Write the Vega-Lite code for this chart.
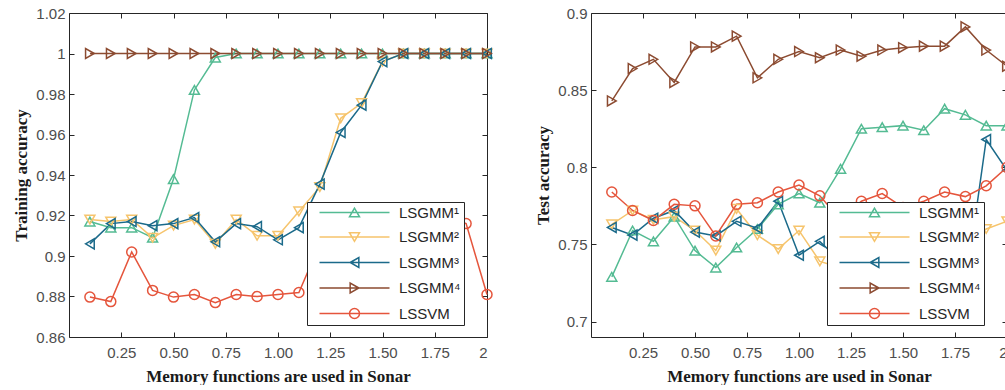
{
  "$schema": "https://vega.github.io/schema/vega-lite/v6.json",
  "padding": {"left": 12, "top": 5, "right": 0, "bottom": 0},
  "datasets": {
    "acc": [
      {"model":"LSGMM¹","x":0.1,"train":0.917,"test":0.729},
      {"model":"LSGMM¹","x":0.2,"train":0.914,"test":0.759},
      {"model":"LSGMM¹","x":0.3,"train":0.914,"test":0.752},
      {"model":"LSGMM¹","x":0.4,"train":0.909,"test":0.768},
      {"model":"LSGMM¹","x":0.5,"train":0.938,"test":0.746},
      {"model":"LSGMM¹","x":0.6,"train":0.982,"test":0.735},
      {"model":"LSGMM¹","x":0.7,"train":0.998,"test":0.748},
      {"model":"LSGMM¹","x":0.8,"train":1,"test":0.760},
      {"model":"LSGMM¹","x":0.9,"train":1,"test":0.776},
      {"model":"LSGMM¹","x":1.0,"train":1,"test":0.783},
      {"model":"LSGMM¹","x":1.1,"train":1,"test":0.777},
      {"model":"LSGMM¹","x":1.2,"train":1,"test":0.799},
      {"model":"LSGMM¹","x":1.3,"train":1,"test":0.825},
      {"model":"LSGMM¹","x":1.4,"train":1,"test":0.826},
      {"model":"LSGMM¹","x":1.5,"train":1,"test":0.827},
      {"model":"LSGMM¹","x":1.6,"train":1,"test":0.824},
      {"model":"LSGMM¹","x":1.7,"train":1,"test":0.838},
      {"model":"LSGMM¹","x":1.8,"train":1,"test":0.834},
      {"model":"LSGMM¹","x":1.9,"train":1,"test":0.827},
      {"model":"LSGMM¹","x":2.0,"train":1,"test":0.827},
      {"model":"LSGMM²","x":0.1,"train":0.918,"test":0.763},
      {"model":"LSGMM²","x":0.2,"train":0.917,"test":0.772},
      {"model":"LSGMM²","x":0.3,"train":0.918,"test":0.766},
      {"model":"LSGMM²","x":0.4,"train":0.909,"test":0.768},
      {"model":"LSGMM²","x":0.5,"train":0.915,"test":0.759},
      {"model":"LSGMM²","x":0.6,"train":0.918,"test":0.746},
      {"model":"LSGMM²","x":0.7,"train":0.906,"test":0.773},
      {"model":"LSGMM²","x":0.8,"train":0.918,"test":0.756},
      {"model":"LSGMM²","x":0.9,"train":0.910,"test":0.747},
      {"model":"LSGMM²","x":1.0,"train":0.910,"test":0.759},
      {"model":"LSGMM²","x":1.1,"train":0.922,"test":0.739},
      {"model":"LSGMM²","x":1.2,"train":0.934,"test":0.735},
      {"model":"LSGMM²","x":1.3,"train":0.968,"test":0.742},
      {"model":"LSGMM²","x":1.4,"train":0.9755,"test":0.748},
      {"model":"LSGMM²","x":1.5,"train":0.996,"test":0.745},
      {"model":"LSGMM²","x":1.6,"train":1,"test":0.752},
      {"model":"LSGMM²","x":1.7,"train":1,"test":0.756},
      {"model":"LSGMM²","x":1.8,"train":1,"test":0.752},
      {"model":"LSGMM²","x":1.9,"train":1,"test":0.760},
      {"model":"LSGMM²","x":2.0,"train":1,"test":0.765},
      {"model":"LSGMM³","x":0.1,"train":0.906,"test":0.761},
      {"model":"LSGMM³","x":0.2,"train":0.916,"test":0.756},
      {"model":"LSGMM³","x":0.3,"train":0.917,"test":0.767},
      {"model":"LSGMM³","x":0.4,"train":0.915,"test":0.772},
      {"model":"LSGMM³","x":0.5,"train":0.916,"test":0.758},
      {"model":"LSGMM³","x":0.6,"train":0.919,"test":0.7555},
      {"model":"LSGMM³","x":0.7,"train":0.907,"test":0.765},
      {"model":"LSGMM³","x":0.8,"train":0.916,"test":0.7605},
      {"model":"LSGMM³","x":0.9,"train":0.9145,"test":0.778},
      {"model":"LSGMM³","x":1.0,"train":0.908,"test":0.743},
      {"model":"LSGMM³","x":1.1,"train":0.914,"test":0.752},
      {"model":"LSGMM³","x":1.2,"train":0.9355,"test":0.739},
      {"model":"LSGMM³","x":1.3,"train":0.961,"test":0.732},
      {"model":"LSGMM³","x":1.4,"train":0.9745,"test":0.725},
      {"model":"LSGMM³","x":1.5,"train":0.996,"test":0.715},
      {"model":"LSGMM³","x":1.6,"train":1,"test":0.702},
      {"model":"LSGMM³","x":1.7,"train":1,"test":0.712},
      {"model":"LSGMM³","x":1.8,"train":1,"test":0.722},
      {"model":"LSGMM³","x":1.9,"train":1,"test":0.818},
      {"model":"LSGMM³","x":2.0,"train":1,"test":0.798},
      {"model":"LSGMM⁴","x":0.1,"train":1,"test":0.843},
      {"model":"LSGMM⁴","x":0.2,"train":1,"test":0.864},
      {"model":"LSGMM⁴","x":0.3,"train":1,"test":0.870},
      {"model":"LSGMM⁴","x":0.4,"train":1,"test":0.855},
      {"model":"LSGMM⁴","x":0.5,"train":1,"test":0.878},
      {"model":"LSGMM⁴","x":0.6,"train":1,"test":0.878},
      {"model":"LSGMM⁴","x":0.7,"train":1,"test":0.885},
      {"model":"LSGMM⁴","x":0.8,"train":1,"test":0.858},
      {"model":"LSGMM⁴","x":0.9,"train":1,"test":0.870},
      {"model":"LSGMM⁴","x":1.0,"train":1,"test":0.875},
      {"model":"LSGMM⁴","x":1.1,"train":1,"test":0.871},
      {"model":"LSGMM⁴","x":1.2,"train":1,"test":0.876},
      {"model":"LSGMM⁴","x":1.3,"train":1,"test":0.872},
      {"model":"LSGMM⁴","x":1.4,"train":1,"test":0.876},
      {"model":"LSGMM⁴","x":1.5,"train":1,"test":0.8775},
      {"model":"LSGMM⁴","x":1.6,"train":1,"test":0.8785},
      {"model":"LSGMM⁴","x":1.7,"train":1,"test":0.8785},
      {"model":"LSGMM⁴","x":1.8,"train":1,"test":0.891},
      {"model":"LSGMM⁴","x":1.9,"train":1,"test":0.876},
      {"model":"LSGMM⁴","x":2.0,"train":1,"test":0.8655},
      {"model":"LSSVM","x":0.1,"train":0.8797,"test":0.784},
      {"model":"LSSVM","x":0.2,"train":0.8775,"test":0.772},
      {"model":"LSSVM","x":0.3,"train":0.902,"test":0.7655},
      {"model":"LSSVM","x":0.4,"train":0.883,"test":0.776},
      {"model":"LSSVM","x":0.5,"train":0.8797,"test":0.775},
      {"model":"LSSVM","x":0.6,"train":0.881,"test":0.7555},
      {"model":"LSSVM","x":0.7,"train":0.877,"test":0.776},
      {"model":"LSSVM","x":0.8,"train":0.881,"test":0.777},
      {"model":"LSSVM","x":0.9,"train":0.880,"test":0.784},
      {"model":"LSSVM","x":1.0,"train":0.881,"test":0.7885},
      {"model":"LSSVM","x":1.1,"train":0.882,"test":0.7815},
      {"model":"LSSVM","x":1.2,"train":0.906,"test":0.766},
      {"model":"LSSVM","x":1.3,"train":0.910,"test":0.778},
      {"model":"LSSVM","x":1.4,"train":0.915,"test":0.783},
      {"model":"LSSVM","x":1.5,"train":0.912,"test":0.774},
      {"model":"LSSVM","x":1.6,"train":0.918,"test":0.778},
      {"model":"LSSVM","x":1.7,"train":0.915,"test":0.784},
      {"model":"LSSVM","x":1.8,"train":0.920,"test":0.781},
      {"model":"LSSVM","x":1.9,"train":0.916,"test":0.788},
      {"model":"LSSVM","x":2.0,"train":0.881,"test":0.800}
    ]
  },
  "data": {"name": "acc"},
  "spacing": 104,
  "bounds": "flush",
  "hconcat": [
    {
      "width": 418,
      "height": 324,
      "layer": [
        {
          "mark": {"type": "line", "strokeWidth": 1.5},
          "encoding": {
            "x": {"field": "x", "type": "quantitative", "scale": {"domain": [0, 2], "nice": false, "zero": false},
              "axis": {"orient": "bottom", "values": [0.25, 0.5, 0.75, 1, 1.25, 1.5, 1.75, 2], "labelExpr": "datum.value == 2 ? '2' : format(datum.value, '.2f')", "title": "Memory functions are used in Sonar", "labelPadding": 13, "titlePadding": 8}},
            "y": {"field": "train", "type": "quantitative", "scale": {"domain": [0.86, 1.02], "nice": false, "zero": false},
              "axis": {"orient": "left", "values": [0.86, 0.88, 0.9, 0.92, 0.94, 0.96, 0.98, 1, 1.02], "format": "~g", "title": "Training accuracy", "labelPadding": 9}},
            "color": {"field": "model", "type": "nominal",
              "scale": {"domain": ["LSGMM¹", "LSGMM²", "LSGMM³", "LSGMM⁴", "LSSVM"], "range": ["#54bb93", "#f6c46c", "#1b6a8a", "#8c4b31", "#e5553c"]},
              "legend": null}
          }
        },
        {
          "mark": {"type": "point", "filled": false, "size": 100, "strokeWidth": 1.5, "opacity": 1},
          "encoding": {
            "x": {"field": "x", "type": "quantitative", "axis": {"orient": "top", "values": [0.25, 0.5, 0.75, 1, 1.25, 1.5, 1.75, 2], "labels": false, "title": null}},
            "y": {"field": "train", "type": "quantitative", "axis": {"orient": "right", "values": [0.86, 0.88, 0.9, 0.92, 0.94, 0.96, 0.98, 1, 1.02], "labels": false, "title": null}},
            "color": {"field": "model", "type": "nominal",
              "scale": {"domain": ["LSGMM¹", "LSGMM²", "LSGMM³", "LSGMM⁴", "LSSVM"], "range": ["#54bb93", "#f6c46c", "#1b6a8a", "#8c4b31", "#e5553c"]},
              "legend": null},
            "shape": {"field": "model", "type": "nominal", "scale": {"domain": ["LSGMM¹", "LSGMM²", "LSGMM³", "LSGMM⁴", "LSSVM"], "range": ["triangle-up", "triangle-down", "triangle-left", "triangle-right", "circle"]}, "legend": null}
          }
        },
        {
          "transform": [{"filter": "false"}],
          "mark": {"type": "point", "filled": false, "size": 100, "strokeWidth": 1.5, "opacity": 1},
          "encoding": {
            "color": {"field": "model", "type": "nominal",
              "scale": {"domain": ["LSGMM¹", "LSGMM²", "LSGMM³", "LSGMM⁴", "LSSVM"], "range": ["#54bb93", "#f6c46c", "#1b6a8a", "#8c4b31", "#e5553c"]},
              "legend": {"title": null, "orient": "none", "legendX": 238, "legendY": 189}},
            "shape": {"field": "model", "type": "nominal",
              "scale": {"domain": ["LSGMM¹", "LSGMM²", "LSGMM³", "LSGMM⁴", "LSSVM"], "range": ["M-7,0L7,0M0,-0.866L-1,0.866L1,0.866Z", "M-7,0L7,0M0,0.866L-1,-0.866L1,-0.866Z", "M-7,0L7,0M-0.866,0L0.866,-1L0.866,1Z", "M-7,0L7,0M0.866,0L-0.866,-1L-0.866,1Z", "M-7,0L7,0M-1,0A1,1 0 1,0 1,0A1,1 0 1,0 -1,0"]},
              "legend": {"title": null, "orient": "none", "legendX": 238, "legendY": 189}}
          }
        }
      ],
      "resolve": {"axis": {"x": "independent", "y": "independent"}, "scale": {"shape": "independent", "color": "independent"}}
    },
    {
      "width": 416,
      "height": 324,
      "layer": [
        {
          "mark": {"type": "line", "strokeWidth": 1.5},
          "encoding": {
            "x": {"field": "x", "type": "quantitative", "scale": {"domain": [0, 2], "nice": false, "zero": false},
              "axis": {"orient": "bottom", "values": [0.25, 0.5, 0.75, 1, 1.25, 1.5, 1.75, 2], "labelExpr": "datum.value == 2 ? '2' : format(datum.value, '.2f')", "title": "Memory functions are used in Sonar", "labelPadding": 13, "titlePadding": 8}},
            "y": {"field": "test", "type": "quantitative", "scale": {"domain": [0.69, 0.9], "nice": false, "zero": false},
              "axis": {"orient": "left", "values": [0.7, 0.75, 0.8, 0.85, 0.9], "format": "~g", "title": "Test accuracy", "labelPadding": 9}},
            "color": {"field": "model", "type": "nominal",
              "scale": {"domain": ["LSGMM¹", "LSGMM²", "LSGMM³", "LSGMM⁴", "LSSVM"], "range": ["#54bb93", "#f6c46c", "#1b6a8a", "#8c4b31", "#e5553c"]},
              "legend": null}
          }
        },
        {
          "mark": {"type": "point", "filled": false, "size": 100, "strokeWidth": 1.5, "opacity": 1},
          "encoding": {
            "x": {"field": "x", "type": "quantitative", "axis": {"orient": "top", "values": [0.25, 0.5, 0.75, 1, 1.25, 1.5, 1.75, 2], "labels": false, "title": null}},
            "y": {"field": "test", "type": "quantitative", "axis": {"orient": "right", "values": [0.7, 0.75, 0.8, 0.85, 0.9], "labels": false, "title": null}},
            "color": {"field": "model", "type": "nominal",
              "scale": {"domain": ["LSGMM¹", "LSGMM²", "LSGMM³", "LSGMM⁴", "LSSVM"], "range": ["#54bb93", "#f6c46c", "#1b6a8a", "#8c4b31", "#e5553c"]},
              "legend": null},
            "shape": {"field": "model", "type": "nominal", "scale": {"domain": ["LSGMM¹", "LSGMM²", "LSGMM³", "LSGMM⁴", "LSSVM"], "range": ["triangle-up", "triangle-down", "triangle-left", "triangle-right", "circle"]}, "legend": null}
          }
        },
        {
          "transform": [{"filter": "false"}],
          "mark": {"type": "point", "filled": false, "size": 100, "strokeWidth": 1.5, "opacity": 1},
          "encoding": {
            "color": {"field": "model", "type": "nominal",
              "scale": {"domain": ["LSGMM¹", "LSGMM²", "LSGMM³", "LSGMM⁴", "LSSVM"], "range": ["#54bb93", "#f6c46c", "#1b6a8a", "#8c4b31", "#e5553c"]},
              "legend": {"title": null, "orient": "none", "legendX": 236, "legendY": 189}},
            "shape": {"field": "model", "type": "nominal",
              "scale": {"domain": ["LSGMM¹", "LSGMM²", "LSGMM³", "LSGMM⁴", "LSSVM"], "range": ["M-7,0L7,0M0,-0.866L-1,0.866L1,0.866Z", "M-7,0L7,0M0,0.866L-1,-0.866L1,-0.866Z", "M-7,0L7,0M-0.866,0L0.866,-1L0.866,1Z", "M-7,0L7,0M0.866,0L-0.866,-1L-0.866,1Z", "M-7,0L7,0M-1,0A1,1 0 1,0 1,0A1,1 0 1,0 -1,0"]},
              "legend": {"title": null, "orient": "none", "legendX": 236, "legendY": 189}}
          }
        }
      ],
      "resolve": {"axis": {"x": "independent", "y": "independent"}, "scale": {"shape": "independent", "color": "independent"}}
    }
  ],
  "resolve": {"legend": {"color": "independent", "shape": "independent"}, "scale": {"shape": "independent", "color": "independent"}},
  "config": {
    "view": {"stroke": "#262626", "strokeWidth": 1},
    "axis": {
      "grid": false, "domain": false,
      "ticks": true, "tickColor": "#262626", "tickSize": -5, "tickWidth": 1,
      "labelFont": "Liberation Sans", "labelFontSize": 15, "labelColor": "#4d4d4d",
      "titleFont": "Liberation Serif", "titleFontSize": 17, "titleFontWeight": "bold", "titleColor": "#1a1a1a",
      "titlePadding": 5
    },
    "legend": {
      "padding": 3, "rowPadding": 8.5,
      "symbolSize": 100, "symbolStrokeWidth": 1.5, "symbolOffset": 37, "labelOffset": 37,
      "labelFont": "Liberation Sans", "labelFontSize": 15, "labelColor": "#262626",
      "fillColor": "white", "strokeColor": "#262626"
    }
  }
}
